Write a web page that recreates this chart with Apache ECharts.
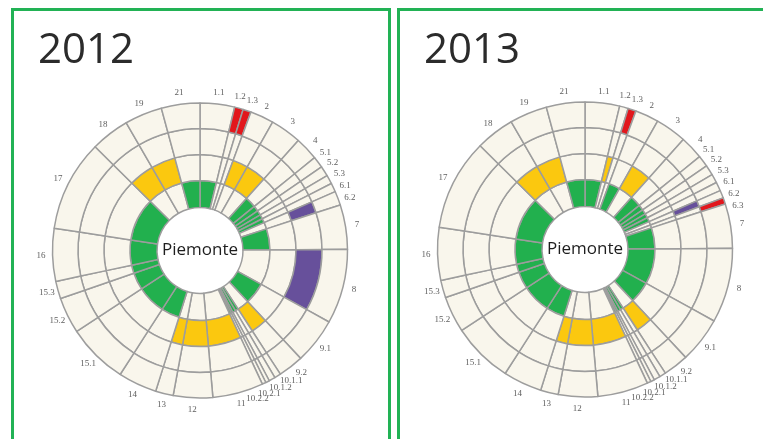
<!DOCTYPE html>
<html>
<head>
<meta charset="utf-8">
<script src="https://cdn.jsdelivr.net/npm/echarts@6/dist/echarts.min.js"></script>
<style>
  html, body { margin: 0; padding: 0; background: #fff; }
  #chart { width: 763px; height: 439px; }
</style>
</head>
<body>
<div id="chart"></div>
<script>
// slices go clockwise from 12 o'clock; span = angular width in degrees
const categories2012 = ['1.1', '1.2', '1.3', '2', '3', '4', '5.1', '5.2', '5.3', '6.1', '6.2', '7', '8', '9.1', '9.2',
  '10.1.1', '10.1.2', '10.2.1', '10.2.2', '11', '12', '13', '14', '15.1', '15.2', '15.3', '16', '17', '18', '19', '21']
const spans2012 = [13.6, 3.4, 3.2, 9.3, 12.3, 9.2, 4.5, 4, 3.5, 3.5, 5.5, 17.5, 29.5, 18, 10,
  2.5, 2.5, 1.5, 1.5, 20, 15.5, 7, 15.3, 23.9, 14.3, 6.9, 20.8, 36, 15.3, 14.8, 15.2]
// level 1 = green (inner ring) ... 4 = red (outer ring), 0 = none
const levels2012 = [1, 4, 4, 2, 2, 1, 1, 1, 1, 1, 3, 1, 3, 1, 2,
  1, 1, 1, 1, 2, 2, 2, 1, 1, 1, 1, 1, 1, 2, 2, 1]

const categories2013 = ['1.1', '1.2', '1.3', '2', '3', '4', '5.1', '5.2', '5.3', '6.1', '6.2', '6.3', '7', '8', '9.1', '9.2',
  '10.1.1', '10.1.2', '10.2.1', '10.2.2', '11', '12', '13', '14', '15.1', '15.2', '15.3', '16', '17', '18', '19', '21']
const spans2013 = [13.6, 3.4, 3.2, 9.3, 12.3, 9.2, 4.5, 4, 3.5, 3.5, 3, 2.5, 17.5, 29.5, 18, 10,
  2.5, 2.5, 1.5, 1.5, 20, 15.5, 7, 15.3, 23.9, 14.3, 6.9, 20.8, 36, 15.3, 14.8, 15.2]
const levels2013 = [1, 2, 4, 1, 2, 1, 1, 1, 1, 1, 3, 4, 1, 1, 1, 2,
  1, 1, 1, 1, 2, 2, 2, 1, 1, 1, 1, 1, 1, 2, 2, 1]

const levelColors = ['#22b04e', '#fbc80f', '#67509b', '#e2171c']
const ringEdges = [43, 70, 96, 122, 147.5]
const cream = '#f9f6ec'
const gridGrey = '#9d9d9d'

const panels = [
  { year: '2012', center: [200, 250.5], cats: categories2012, spans: spans2012, levels: levels2012 },
  { year: '2013', center: [585, 249.5], cats: categories2013, spans: spans2013, levels: levels2013 },
]

// label angles: slice middles, pushed apart where slices are thin
function labelAngles(spans, gap) {
  let acc = 0
  const pos = spans.map((s) => {
    const mid = acc + s / 2
    acc += s
    return mid
  })
  for (let it = 0; it < 400; it++) {
    for (let i = 0; i < pos.length - 1; i++) {
      const d = pos[i + 1] - pos[i]
      if (d < gap) {
        const push = (gap - d) / 2
        pos[i] -= push
        pos[i + 1] += push
      }
    }
  }
  return pos
}

const series = []
const polar = []
const angleAxis = []
const radiusAxis = []
const graphic = []
const title = []

panels.forEach((p, pi) => {
  for (let ring = 0; ring < 4; ring++) {
    series.push({
      type: 'pie',
      center: p.center,
      radius: [ringEdges[ring], ringEdges[ring + 1]],
      startAngle: 90,
      clockwise: true,
      silent: true,
      animation: false,
      label: { show: false },
      labelLine: { show: false },
      itemStyle: { borderColor: gridGrey, borderWidth: 1.5 },
      data: p.cats.map((c, i) => ({
        name: c,
        value: p.spans[i],
        itemStyle: { color: p.levels[i] === ring + 1 ? levelColors[ring] : cream },
      })),
    })
  }

  polar.push({ center: p.center, radius: 175 })
  angleAxis.push({ polarIndex: pi, type: 'value', min: 0, max: 360, startAngle: 90, clockwise: true, show: false })
  radiusAxis.push({ polarIndex: pi, type: 'value', min: 0, max: 175, show: false })

  const angles = labelAngles(p.spans, 4.6)
  series.push({
    type: 'scatter',
    coordinateSystem: 'polar',
    polarIndex: pi,
    symbolSize: 1,
    itemStyle: { color: 'transparent' },
    silent: true,
    animation: false,
    label: {
      show: true,
      position: 'inside',
      formatter: '{b}',
      color: '#333',
      fontSize: 9,
      fontFamily: 'Liberation Serif',
    },
    data: p.cats.map((c, i) => ({ name: c, value: [159, (angles[i] + 360) % 360] })),
  })

  title.push({
    text: p.year,
    left: pi === 0 ? 33 : 419,
    top: 25,
    textStyle: { fontSize: 42, fontWeight: 'normal', color: '#2b2b2b', fontFamily: 'Open Sans' },
  })

  graphic.push({
    type: 'text',
    x: p.center[0],
    y: p.center[1],
    z: 10,
    style: {
      text: 'Piemonte',
      fill: '#1e1e1e',
      fontSize: 17,
      fontFamily: 'Open Sans',
      align: 'center',
      verticalAlign: 'middle',
    },
  })
})

// panel frames
graphic.push(
  { type: 'rect', shape: { x: 12.5, y: 9.5, width: 377, height: 445 }, style: { fill: 'none', stroke: '#22b255', lineWidth: 3 } },
  { type: 'rect', shape: { x: 398.5, y: 9.5, width: 400, height: 445 }, style: { fill: 'none', stroke: '#22b255', lineWidth: 3 } },
)

const chart = echarts.init(document.getElementById('chart'), null, { renderer: 'canvas' })
chart.setOption({
  backgroundColor: '#fff',
  animation: false,
  title,
  polar,
  angleAxis,
  radiusAxis,
  graphic,
  series,
})
</script>
</body>
</html>
